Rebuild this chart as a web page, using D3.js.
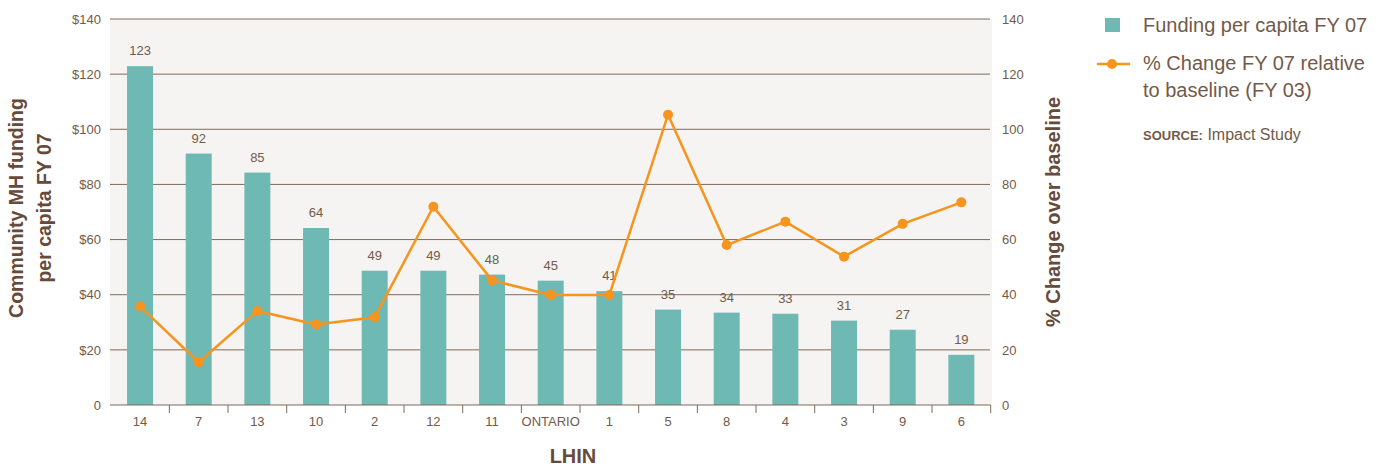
<!DOCTYPE html>
<html lang="en">
<head>
<meta charset="UTF-8">
<title>Community MH funding per capita by LHIN</title>
<script src="https://d3js.org/d3.v7.min.js"></script>
<style>
  body { margin: 0; background: #ffffff; }
  svg text { font-family: "Liberation Sans", Arial, Helvetica, sans-serif; }
</style>
</head>
<body>
<svg id="chart" width="1386" height="470"></svg>
<script>
// data
var lhins = ["14", "7", "13", "10", "2", "12", "11", "ONTARIO", "1", "5", "8", "4", "3", "9", "6"];
var funding = [122.9, 91.2, 84.3, 64.2, 48.7, 48.7, 47.3, 45.1, 41.3, 34.6, 33.5, 33.1, 30.6, 27.3, 18.2];
var fundingLabels = ["123", "92", "85", "64", "49", "49", "48", "45", "41", "35", "34", "33", "31", "27", "19"];
var pctChange = [35.8, 15.5, 34.1, 29.2, 31.8, 71.9, 45.2, 39.9, 39.9, 105.3, 58.0, 66.5, 53.8, 65.7, 73.5];
var leftTicks = [0, 20, 40, 60, 80, 100, 120, 140];
var rightTicks = [0, 20, 40, 60, 80, 100, 120, 140];

var textCol = "#725a4a";
var titleCol = "#664a3a";
var gridCol = "#806b5d";
var barCol = "#6fb9b5";
var lineCol = "#f7941d";

var svg = d3.select("#chart");

// plot area edges
var xLeft = 110.7, xRight = 990.7, yTop = 19, yBottom = 405;

var x = d3.scaleBand()
  .domain(lhins)
  .range([xLeft, xRight])
  .paddingInner(0.557)
  .paddingOuter(0.2785);

var y = d3.scaleLinear().domain([0, 140]).range([yBottom, yTop]);
var y2 = d3.scaleLinear().domain([0, 140]).range([yBottom, yTop]);

// plot background
svg.append("rect")
  .attr("x", 110).attr("y", yTop)
  .attr("width", 882).attr("height", yBottom - yTop)
  .attr("fill", "#f5f4f2");

// gridlines
svg.append("g")
  .selectAll("line")
  .data(leftTicks.filter(d => d > 0))
  .join("line")
  .attr("x1", 110).attr("x2", 990)
  .attr("y1", d => y(d)).attr("y2", d => y(d))
  .attr("stroke", gridCol)
  .attr("stroke-width", 1);

// left axis labels
var yAxis = svg.append("g")
  .attr("transform", "translate(110,0)")
  .call(d3.axisLeft(y).tickValues(leftTicks).tickSize(0).tickPadding(9)
    .tickFormat(d => d === 0 ? "0" : "$" + d));
yAxis.select(".domain").remove();
yAxis.selectAll("text").attr("fill", textCol).style("font-size", "13px");

// right axis labels
var y2Axis = svg.append("g")
  .attr("transform", "translate(990,0)")
  .call(d3.axisRight(y2).tickValues(rightTicks).tickSize(0).tickPadding(12));
y2Axis.select(".domain").remove();
y2Axis.selectAll("text").attr("fill", textCol).style("font-size", "13px");

// bars
svg.append("g")
  .selectAll("rect")
  .data(funding)
  .join("rect")
  .attr("x", (d, i) => x(lhins[i]))
  .attr("y", d => y(d))
  .attr("width", x.bandwidth())
  .attr("height", d => yBottom - y(d))
  .attr("fill", barCol);

// bar value labels
svg.append("g")
  .selectAll("text")
  .data(funding)
  .join("text")
  .attr("x", (d, i) => x(lhins[i]) + x.bandwidth() / 2)
  .attr("y", d => y(d) - 11)
  .attr("text-anchor", "middle")
  .attr("fill", textCol)
  .style("font-size", "13px")
  .text((d, i) => fundingLabels[i]);

// x axis
svg.append("line")
  .attr("x1", 110).attr("x2", xRight)
  .attr("y1", yBottom).attr("y2", yBottom)
  .attr("stroke", gridCol).attr("stroke-width", 1.2);

svg.append("g")
  .selectAll("line")
  .data(lhins)
  .join("line")
  .attr("x1", d => x(d) + x.bandwidth() / 2 + x.step() / 2)
  .attr("x2", d => x(d) + x.bandwidth() / 2 + x.step() / 2)
  .attr("y1", yBottom).attr("y2", yBottom + 8)
  .attr("stroke", gridCol).attr("stroke-width", 1);

var xAxis = svg.append("g")
  .attr("transform", "translate(0," + yBottom + ")")
  .call(d3.axisBottom(x).tickSize(0).tickPadding(12));
xAxis.select(".domain").remove();
xAxis.selectAll("text").attr("fill", textCol).style("font-size", "13px");

// % change line
var line = d3.line()
  .x((d, i) => x(lhins[i]) + x.bandwidth() / 2)
  .y(d => y2(d));

svg.append("path")
  .datum(pctChange)
  .attr("d", line)
  .attr("fill", "none")
  .attr("stroke", lineCol)
  .attr("stroke-width", 2.5);

svg.append("g")
  .selectAll("circle")
  .data(pctChange)
  .join("circle")
  .attr("cx", (d, i) => x(lhins[i]) + x.bandwidth() / 2)
  .attr("cy", d => y2(d))
  .attr("r", 5)
  .attr("fill", lineCol);

// axis titles
var ltitle = svg.append("text")
  .attr("transform", "translate(23,208) rotate(-90)")
  .attr("text-anchor", "middle")
  .attr("fill", titleCol)
  .style("font-size", "19.5px").style("font-weight", "bold");
ltitle.append("tspan").attr("x", 0).attr("y", 0).text("Community MH funding");
ltitle.append("tspan").attr("x", 0).attr("y", 28).text("per capita FY 07");

svg.append("text")
  .attr("transform", "translate(1060,212) rotate(-90)")
  .attr("text-anchor", "middle")
  .attr("fill", titleCol)
  .style("font-size", "20px").style("font-weight", "bold")
  .text("% Change over baseline");

svg.append("text")
  .attr("x", 573).attr("y", 463)
  .attr("text-anchor", "middle")
  .attr("fill", titleCol)
  .style("font-size", "20px").style("font-weight", "bold")
  .text("LHIN");

// legend
var legend = svg.append("g");
legend.append("rect")
  .attr("x", 1105).attr("y", 18).attr("width", 15).attr("height", 14)
  .attr("fill", barCol);
legend.append("text")
  .attr("x", 1143).attr("y", 32)
  .attr("fill", textCol).style("font-size", "20px")
  .text("Funding per capita FY 07");

legend.append("line")
  .attr("x1", 1097).attr("x2", 1130).attr("y1", 64).attr("y2", 64)
  .attr("stroke", lineCol).attr("stroke-width", 2.5);
legend.append("circle")
  .attr("cx", 1112).attr("cy", 64).attr("r", 5).attr("fill", lineCol);
legend.append("text")
  .attr("x", 1143).attr("y", 70)
  .attr("fill", textCol).style("font-size", "20px")
  .text("% Change FY 07 relative");
legend.append("text")
  .attr("x", 1143).attr("y", 97)
  .attr("fill", textCol).style("font-size", "20px")
  .text("to baseline (FY 03)");

var src = legend.append("text")
  .attr("x", 1143).attr("y", 140)
  .attr("fill", textCol);
src.append("tspan").style("font-size", "13px").style("font-weight", "bold").text("SOURCE:");
src.append("tspan").style("font-size", "16px").text(" Impact Study");
</script>
</body>
</html>
